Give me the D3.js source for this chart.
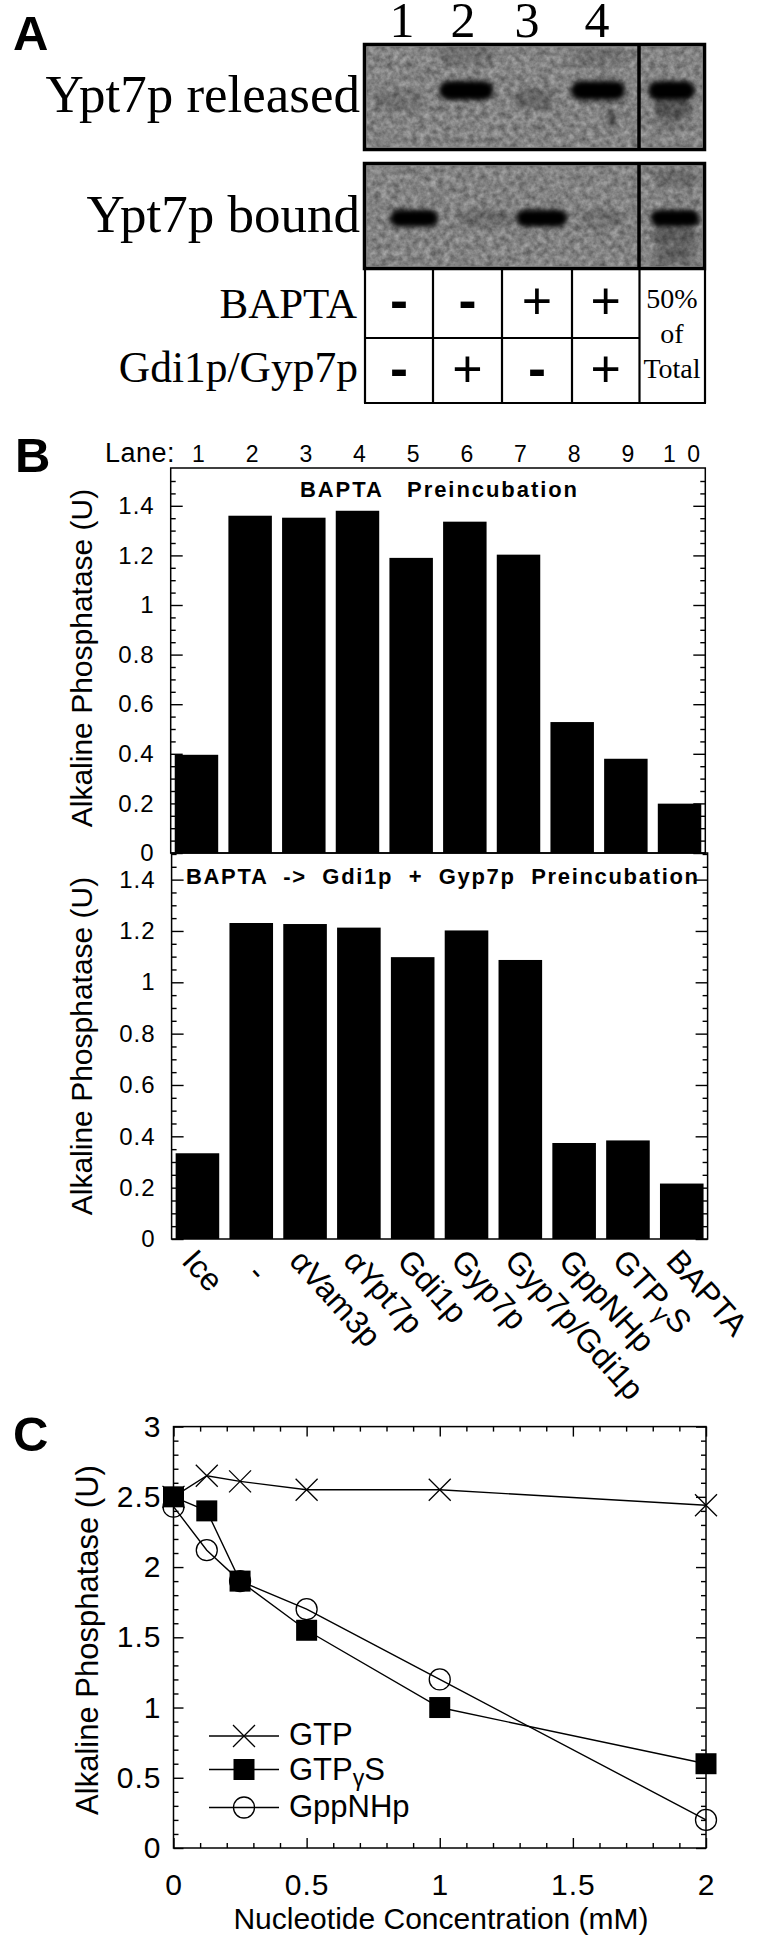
<!DOCTYPE html>
<html>
<head>
<meta charset="utf-8">
<script src="https://d3js.org/d3.v7.min.js"></script>
<style>
  html, body { margin: 0; padding: 0; background: #fff; }
  svg { display: block; }
  text { font-family: "Liberation Sans", Arial, sans-serif; fill: #000; }
  .serif { font-family: "Liberation Serif", "Times New Roman", serif; }
  .tick line { stroke: #000; stroke-width: 1.4px; }
  .domain { display: none; }
</style>
</head>
<body>
<div id="main"></div>
<script>
// panel A: western blot, bands (lane units, depth as fraction of gel height)
const blotLanes = ['1', '2', '3', '4'];
const releasedLane = [1.01, 1.98, 2.97, 3.9, 4.97];
const releasedDepth = [0.53, 0.44, 0.52, 0.44, 0.44];
const releasedSpan = [0.71, 0.79, 0.61, 0.79, 0.68];
const releasedStrength = [0.14, 1, 0.22, 1, 1];
const boundLane = [1.22, 2.27, 3.08, 3.98, 5.02];
const boundDepth = [0.52, 0.52, 0.52, 0.52, 0.52];
const boundSpan = [0.7, 0.79, 0.74, 0.64, 0.71];
const boundStrength = [1, 0.18, 1, 0.16, 1];
// weak extra bands and smudges: [lane, depth, span, strength]
const releasedFaint = [[4.97, 0.6, 0.55, 0.35], [4.97, 0.73, 0.5, 0.12], [4.1, 0.7, 0.12, 0.5], [1.98, 0.1, 0.8, 0.16], [3.9, 0.12, 0.8, 0.12]];
const boundFaint = [[5.02, 0.15, 0.6, 0.2], [5.02, 0.69, 0.65, 0.3], [5.02, 0.86, 0.6, 0.28]];
const bandptaRow = ['-', '-', '+', '+'];
const gdiGypRow = ['-', '+', '-', '+'];
const totalNote = ['50%', 'of', 'Total'];

// panel B: bar charts
const laneNumbers = ['1', '2', '3', '4', '5', '6', '7', '8', '9', '1 0'];
const treatments = ['Ice', '\u00a0\u00a0-', 'αVam3p', 'αYpt7p', 'Gdi1p', 'Gyp7p', 'Gyp7p/Gdi1p', 'GppNHp', 'GTPγS', 'BAPTA'];
const bapta = [0.396, 1.36, 1.352, 1.38, 1.19, 1.336, 1.203, 0.528, 0.38, 0.199];
const baptaGdiGyp = [0.334, 1.231, 1.227, 1.213, 1.098, 1.202, 1.087, 0.374, 0.384, 0.216];
const barMajorTicks = [0, 0.2, 0.4, 0.6, 0.8, 1, 1.2, 1.4];
const barMinorTicks = [0.05, 0.1, 0.15, 0.25, 0.3, 0.35, 0.45, 0.5, 0.55, 0.65, 0.7, 0.75, 0.85, 0.9, 0.95, 1.05, 1.1, 1.15, 1.25, 1.3, 1.35, 1.45, 1.5];

// panel C: nucleotide titration
const concentration = [0, 0.125, 0.25, 0.5, 1, 2];
const gtp = [2.5, 2.65, 2.61, 2.55, 2.55, 2.44];
const gtpGammaS = [2.5, 2.4, 1.9, 1.55, 1, 0.6];
const gppNHp = [2.43, 2.12, 1.9, 1.7, 1.2, 0.2];
const lineXMajor = [0, 0.5, 1, 1.5, 2];
const lineXMinor = [0.1, 0.2, 0.3, 0.4, 0.6, 0.7, 0.8, 0.9, 1.1, 1.2, 1.3, 1.4, 1.6, 1.7, 1.8, 1.9];
const lineYMajor = [0, 0.5, 1, 1.5, 2, 2.5, 3];
const lineYMinor = [0.1, 0.2, 0.3, 0.4, 0.6, 0.7, 0.8, 0.9, 1.1, 1.2, 1.3, 1.4, 1.6, 1.7, 1.8, 1.9, 2.1, 2.2, 2.3, 2.4, 2.6, 2.7, 2.8, 2.9];

const svg = d3.select('#main')
  .append('svg')
  .attr('width', 773)
  .attr('height', 1957);

// noise and blur for the gel pictures
const defs = svg.append('defs');
const noise = defs.append('filter')
  .attr('id', 'gelNoise')
  .attr('x', 0).attr('y', 0).attr('width', 1).attr('height', 1)
  .attr('color-interpolation-filters', 'sRGB');
noise.append('feTurbulence')
  .attr('type', 'fractalNoise')
  .attr('baseFrequency', 0.16)
  .attr('numOctaves', 3)
  .attr('seed', 7);
noise.append('feColorMatrix')
  .attr('type', 'matrix')
  .attr('values', '0.4 0 0 0 0.31  0.4 0 0 0 0.31  0.4 0 0 0 0.31  0 0 0 0 1');
defs.append('filter')
  .attr('id', 'bandBlur')
  .attr('x', '-30%').attr('y', '-100%').attr('width', '160%').attr('height', '300%')
  .append('feGaussianBlur')
  .attr('stdDeviation', 2.6);

// panel letters
function panelLetter(letter, x, y) {
  svg.append('text')
    .attr('x', x)
    .attr('y', y)
    .style('font-size', '49px')
    .style('font-weight', 'bold')
    .text(letter);
}
panelLetter('A', 13, 50);
panelLetter('B', 15, 472);
panelLetter('C', 13, 1451);

// ---------- panel A ----------
const laneX = d3.scaleLinear().domain([1, 4]).range([399, 605]);
const laneWidth = laneX(2) - laneX(1);

function serifLabel(txt, x, y, size, anchor) {
  svg.append('text')
    .classed('serif', true)
    .attr('x', x)
    .attr('y', y)
    .style('font-size', `${size}px`)
    .style('text-anchor', anchor)
    .text(txt);
}

blotLanes.forEach((d, i) => serifLabel(d, [402, 463, 527, 597][i], 37, 50, 'middle'));

function drawBlot(top, bottom, lanes, depths, spans, strengths, faint, bandHeight) {
  const left = 363;
  const right = 706;
  const divider = 639;
  const depthY = d3.scaleLinear().domain([0, 1]).range([top, bottom]);
  const g = svg.append('g');
  g.append('rect')
    .attr('x', left).attr('y', top)
    .attr('width', right - left).attr('height', bottom - top)
    .attr('filter', 'url(#gelNoise)');
  const bands = lanes.map((d, i) => [d, depths[i], spans[i], strengths[i]]).concat(faint);
  g.selectAll('rect.band')
    .data(bands)
    .enter()
    .append('rect')
    .classed('band', true)
    .attr('x', d => laneX(d[0]) - (d[2] * laneWidth) / 2)
    .attr('y', d => depthY(d[1]) - bandHeight / 2)
    .attr('width', d => d[2] * laneWidth)
    .attr('height', bandHeight)
    .attr('rx', bandHeight / 2)
    .attr('fill', '#000')
    .attr('opacity', d => d[3])
    .attr('filter', 'url(#bandBlur)');
  // pale fringe inside the black frame
  g.append('rect')
    .attr('x', left + 3).attr('y', top + 3)
    .attr('width', right - left - 6).attr('height', bottom - top - 6)
    .attr('fill', 'none')
    .attr('stroke', '#a8a8a8')
    .attr('stroke-width', 1.5);
  g.append('rect')
    .attr('x', left + 1.5).attr('y', top + 1.5)
    .attr('width', right - left - 3).attr('height', bottom - top - 3)
    .attr('fill', 'none')
    .attr('stroke', '#000')
    .attr('stroke-width', 3.5);
  g.append('line')
    .attr('x1', divider).attr('x2', divider)
    .attr('y1', top).attr('y2', bottom)
    .attr('stroke', '#000')
    .attr('stroke-width', 3.5);
}
drawBlot(43, 151, releasedLane, releasedDepth, releasedSpan, releasedStrength, releasedFaint, 19);
drawBlot(162, 270, boundLane, boundDepth, boundSpan, boundStrength, boundFaint, 17);

serifLabel('Ypt7p released', 360, 112, 53, 'end');
serifLabel('Ypt7p bound', 360, 232, 53, 'end');
serifLabel('BAPTA', 357, 318, 43, 'end');
serifLabel('Gdi1p/Gyp7p', 358, 382, 43.5, 'end');

// table under the blots
const cellEdges = [365, 433, 502, 572, 639.5, 705];
const tableTop = 270;
const tableMid = 338;
const tableBottom = 403;
const table = svg.append('g')
  .attr('stroke', '#000')
  .attr('stroke-width', 2.2);
table.selectAll('line.v')
  .data(cellEdges)
  .enter()
  .append('line')
  .classed('v', true)
  .attr('x1', d => d).attr('x2', d => d)
  .attr('y1', tableTop).attr('y2', tableBottom);
table.append('line').attr('x1', 365).attr('x2', 639.5).attr('y1', tableMid).attr('y2', tableMid);
table.append('line').attr('x1', 364).attr('x2', 706).attr('y1', tableBottom).attr('y2', tableBottom);

function signRow(row, y) {
  svg.selectAll(null)
    .data(row)
    .enter()
    .append('text')
    .attr('x', (d, i) => (cellEdges[i] + cellEdges[i + 1]) / 2)
    .attr('y', y)
    .style('font-size', d => (d === '+' ? '52px' : '54px'))
    .style('font-weight', d => (d === '+' ? 'normal' : 'bold'))
    .style('text-anchor', 'middle')
    .text(d => d);
}
signRow(bandptaRow, 319);
signRow(gdiGypRow, 387);
totalNote.forEach((d, i) => serifLabel(d, 672, [308, 343, 378][i], 28, 'middle'));

// ---------- panel B ----------
function drawBarPanel(values, frame, zeroY, unitPx) {
  const x = d3.scaleBand()
    .domain(laneNumbers)
    .range([frame.left, frame.right])
    .paddingInner(0.19)
    .paddingOuter(0.075);
  const y = d3.scaleLinear()
    .domain([0, 1.4])
    .range([zeroY, zeroY - 1.4 * unitPx]);
  const g = svg.append('g');
  g.selectAll('rect.bar')
    .data(values)
    .enter()
    .append('rect')
    .classed('bar', true)
    .attr('x', (d, i) => x(laneNumbers[i]))
    .attr('y', d => y(d))
    .attr('width', x.bandwidth())
    .attr('height', d => zeroY - y(d))
    .attr('fill', '#000');
  // major and minor ticks point inwards on both sides
  g.append('g')
    .attr('transform', `translate(${frame.left}, 0)`)
    .call(d3.axisLeft(y).tickValues(barMajorTicks).tickSize(-12).tickPadding(16).tickFormat(d => String(d)))
    .selectAll('text')
    .style('font-size', '24px')
    .style('letter-spacing', '1px');
  g.append('g')
    .attr('transform', `translate(${frame.left}, 0)`)
    .call(d3.axisLeft(y).tickValues(barMinorTicks).tickSize(-5).tickFormat(''));
  g.append('g')
    .attr('transform', `translate(${frame.right}, 0)`)
    .call(d3.axisRight(y).tickValues(barMajorTicks).tickSize(-12).tickFormat(''));
  g.append('g')
    .attr('transform', `translate(${frame.right}, 0)`)
    .call(d3.axisRight(y).tickValues(barMinorTicks).tickSize(-5).tickFormat(''));
  g.append('rect')
    .attr('x', frame.left).attr('y', frame.top)
    .attr('width', frame.right - frame.left).attr('height', frame.bottom - frame.top)
    .attr('fill', 'none')
    .attr('stroke', '#000')
    .attr('stroke-width', 1.5);
  return x;
}

const topX = drawBarPanel(bapta, { left: 170.7, right: 705.3, top: 468, bottom: 853 }, 853, 248);
const lowX = drawBarPanel(baptaGdiGyp, { left: 171.6, right: 707.6, top: 853, bottom: 1239 }, 1239, 256.7);

// lane row above the top chart
svg.append('text')
  .attr('x', 105)
  .attr('y', 462)
  .style('font-size', '27px')
  .style('letter-spacing', '0.5px')
  .text('Lane:');
svg.selectAll('text.lane')
  .data(laneNumbers)
  .enter()
  .append('text')
  .classed('lane', true)
  .attr('x', d => topX(d) + topX.bandwidth() / 2 + 2)
  .attr('y', 462)
  .style('font-size', '23px')
  .style('word-spacing', '5px')
  .style('text-anchor', 'middle')
  .text(d => d);

// chart captions
svg.append('text')
  .attr('x', 300)
  .attr('y', 497)
  .attr('textLength', 277)
  .style('font-size', '22px')
  .style('font-weight', 'bold')
  .style('white-space', 'pre')
  .text('BAPTA   Preincubation');
svg.append('text')
  .attr('x', 186)
  .attr('y', 884)
  .attr('textLength', 512)
  .style('font-size', '22px')
  .style('font-weight', 'bold')
  .style('white-space', 'pre')
  .text('BAPTA  ->  Gdi1p  +  Gyp7p  Preincubation');

// rotated y axis titles
function yTitle(cx, cy, size) {
  svg.append('text')
    .attr('transform', `translate(${cx}, ${cy}) rotate(-90)`)
    .style('font-size', `${size}px`)
    .style('text-anchor', 'middle')
    .text('Alkaline Phosphatase (U)');
}
yTitle(92, 658, 30);
yTitle(92, 1046, 30);
yTitle(98, 1640, 31);

// writes a label, dropping any gamma below the line
function richLabel(sel, txt) {
  const parts = txt.split('γ');
  sel.append('tspan').text(parts[0]);
  if (parts.length > 1) {
    sel.append('tspan').attr('dy', '0.25em').style('font-size', '75%').text('γ');
    sel.append('tspan').attr('dy', '-0.19em').text(parts[1]);
  }
}

// slanted treatment labels under the lower chart
laneNumbers.forEach((lane, i) => {
  const cx = lowX(lane) + lowX.bandwidth() / 2 - 17;
  const label = svg.append('text')
    .attr('transform', `translate(${cx}, 1262) rotate(48)`)
    .style('font-size', '32px')
    .style('white-space', 'pre');
  richLabel(label, treatments[i]);
});

// ---------- panel C ----------
const lineFrame = { left: 173.5, right: 706, top: 1426.6, bottom: 1848 };
const xConc = d3.scaleLinear().domain([0, 2]).range([lineFrame.left, lineFrame.right]);
const yPhos = d3.scaleLinear().domain([0, 3]).range([lineFrame.bottom, lineFrame.top]);
const panelC = svg.append('g');

function tickPair(axis, position, values, size) {
  return panelC.append('g')
    .attr('transform', position)
    .call(axis.tickValues(values).tickSize(-size).tickFormat(''));
}
tickPair(d3.axisBottom(xConc), `translate(0, ${lineFrame.bottom})`, lineXMinor, 5);
tickPair(d3.axisTop(xConc), `translate(0, ${lineFrame.top})`, lineXMinor, 5);
tickPair(d3.axisTop(xConc), `translate(0, ${lineFrame.top})`, lineXMajor, 10);
tickPair(d3.axisLeft(yPhos), `translate(${lineFrame.left}, 0)`, lineYMinor, 5);
tickPair(d3.axisRight(yPhos), `translate(${lineFrame.right}, 0)`, lineYMinor, 5);
tickPair(d3.axisRight(yPhos), `translate(${lineFrame.right}, 0)`, lineYMajor, 10);
panelC.append('g')
  .attr('transform', `translate(0, ${lineFrame.bottom})`)
  .call(d3.axisBottom(xConc).tickValues(lineXMajor).tickSize(-10).tickPadding(26).tickFormat(d => String(d)))
  .selectAll('text')
  .style('font-size', '30px')
  .style('letter-spacing', '1px');
panelC.append('g')
  .attr('transform', `translate(${lineFrame.left}, 0)`)
  .call(d3.axisLeft(yPhos).tickValues(lineYMajor).tickSize(-10).tickPadding(12).tickFormat(d => String(d)))
  .selectAll('text')
  .style('font-size', '30px')
  .style('letter-spacing', '1px');
panelC.append('rect')
  .attr('x', lineFrame.left).attr('y', lineFrame.top)
  .attr('width', lineFrame.right - lineFrame.left).attr('height', lineFrame.bottom - lineFrame.top)
  .attr('fill', 'none')
  .attr('stroke', '#000')
  .attr('stroke-width', 1.5);

// marker drawing shared by the chart and the legend
const timesPath = d3.symbol(d3.symbolTimes, 317)();
const squarePath = d3.symbol(d3.symbolSquare, 441)();
const circlePath = d3.symbol(d3.symbolCircle, 346)();
function marker(sel, kind) {
  const paths = { x: timesPath, square: squarePath, circle: circlePath };
  sel.append('path')
    .attr('d', paths[kind])
    .attr('fill', kind === 'square' ? '#000' : 'none')
    .attr('stroke', '#000')
    .attr('stroke-width', kind === 'square' ? 0 : 1.3);
}

const valueLine = d3.line()
  .x((d, i) => xConc(concentration[i]))
  .y(d => yPhos(d));
const lineSeries = [
  { name: 'GppNHp', values: gppNHp, kind: 'circle' },
  { name: 'GTP', values: gtp, kind: 'x' },
  { name: 'GTPγS', values: gtpGammaS, kind: 'square' },
];
lineSeries.forEach((s) => {
  panelC.append('path')
    .attr('d', valueLine(s.values))
    .attr('fill', 'none')
    .attr('stroke', '#000')
    .attr('stroke-width', 1.4);
  s.values.forEach((v, i) => {
    const m = panelC.append('g')
      .attr('transform', `translate(${xConc(concentration[i])}, ${yPhos(v)})`);
    marker(m, s.kind);
  });
});

// legend
const legendOrder = [lineSeries[1], lineSeries[2], lineSeries[0]];
legendOrder.forEach((s, i) => {
  const ly = [1736, 1769.5, 1807.5][i];
  panelC.append('line')
    .attr('x1', 209).attr('x2', 279)
    .attr('y1', ly).attr('y2', ly)
    .attr('stroke', '#000')
    .attr('stroke-width', 1.4);
  marker(panelC.append('g').attr('transform', `translate(244, ${ly})`), s.kind);
  const label = panelC.append('text')
    .attr('x', 289)
    .attr('y', [1745, 1780, 1817][i])
    .style('font-size', '31px');
  richLabel(label, s.name);
});

// x axis title
svg.append('text')
  .attr('x', 441)
  .attr('y', 1929)
  .style('font-size', '30px')
  .style('text-anchor', 'middle')
  .text('Nucleotide Concentration (mM)');
</script>
</body>
</html>
